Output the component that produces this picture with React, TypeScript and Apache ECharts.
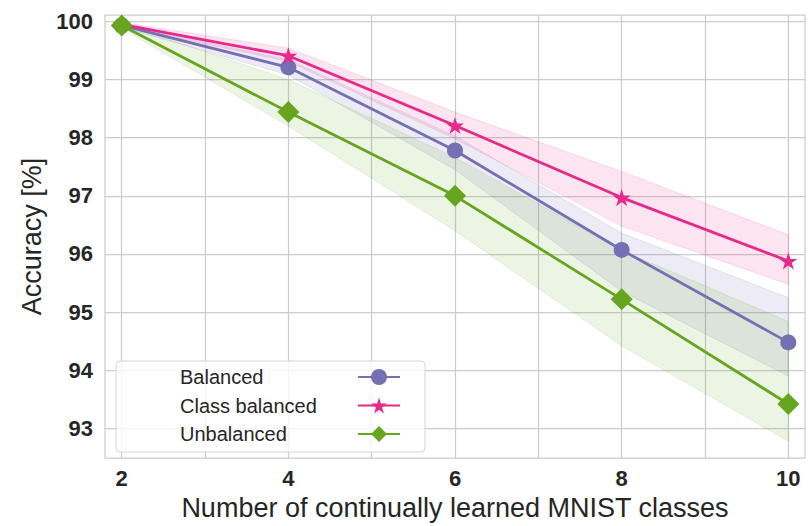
import React, { useEffect, useRef } from "react";
import * as echarts from "echarts";

const xValues = [2, 4, 6, 8, 10];
const xGridTicks = [2, 3, 4, 5, 6, 7, 8, 9, 10];
const xLabelTicks = [2, 4, 6, 8, 10];
const yTicks = [93, 94, 95, 96, 97, 98, 99, 100];

const seriesNames = ["Balanced", "Class balanced", "Unbalanced"];
const balanced = [99.93, 99.21, 97.78, 96.07, 94.48];
const classBalanced = [99.95, 99.41, 98.21, 96.97, 95.88];
const unbalanced = [99.93, 98.44, 97.0, 95.22, 93.42];

const balancedLo = [99.9, 99.08, 97.45, 95.36, 93.9];
const balancedHi = [99.96, 99.34, 98.03, 96.36, 95.25];
const classBalancedLo = [99.92, 99.31, 97.98, 96.48, 95.48];
const classBalancedHi = [99.98, 99.54, 98.44, 97.42, 96.33];
const unbalancedLo = [99.88, 98.2, 96.4, 94.42, 92.78];
const unbalancedHi = [99.96, 99.0, 97.66, 96.06, 94.84];

const colors = ["#7570b3", "#e7298a", "#66a61e"];
const bandFills = [
  "rgba(117,112,179,0.13)",
  "rgba(231,41,138,0.12)",
  "rgba(102,166,30,0.12)",
];
const bandStrokes = [
  "rgba(117,112,179,0.15)",
  "rgba(231,41,138,0.14)",
  "rgba(102,166,30,0.14)",
];

const STAR =
  "path://M0,-1 L0.2245,-0.309 L0.951,-0.309 L0.3633,0.118 L0.588,0.809 L0,0.382 L-0.588,0.809 L-0.3633,0.118 L-0.951,-0.309 L-0.2245,-0.309 Z";

const FONT = "'Liberation Sans', Arial, Helvetica, sans-serif";
const TEXT = "#262626";

function bandSeries(name: string, lo: number[], hi: number[], idx: number) {
  return {
    type: "custom",
    name,
    silent: true,
    z: 1,
    data: xValues.map((x, i) => [x, lo[i], hi[i]]),
    encode: { x: 0, y: [1, 2] },
    renderItem: (params: any, api: any) => {
      if (params.dataIndex !== 0) return { type: "group", children: [] };
      const pts: number[][] = [];
      for (let i = 0; i < xValues.length; i++) pts.push(api.coord([xValues[i], hi[i]]));
      for (let i = xValues.length - 1; i >= 0; i--) pts.push(api.coord([xValues[i], lo[i]]));
      return {
        type: "polygon",
        shape: { points: pts },
        style: { fill: bandFills[idx], stroke: bandStrokes[idx], lineWidth: 1 },
      };
    },
  };
}

function lineSeries(name: string, values: number[], idx: number, symbol: string, size: number) {
  return {
    type: "line",
    name,
    z: 3 + idx,
    data: xValues.map((x, i) => [x, values[i]]),
    symbol,
    symbolSize: size,
    symbolKeepAspect: true,
    showAllSymbol: true,
    color: colors[idx],
    lineStyle: { color: colors[idx], width: 2.8 },
    itemStyle: { color: colors[idx] },
    emphasis: { disabled: true },
  };
}

export default function App() {
  const ref = useRef<HTMLDivElement>(null);
  useEffect(() => {
    if (!ref.current) return;
    const chart = echarts.init(ref.current, undefined, { renderer: "svg" });
    chart.setOption({
      animation: false,
      backgroundColor: "#ffffff",
      textStyle: { fontFamily: FONT },
      grid: {
        left: 105,
        right: 5,
        top: 15,
        bottom: 63,
        show: true,
        borderColor: "#cccccc",
        borderWidth: 1.25,
        backgroundColor: "transparent",
        containLabel: false,
      },
      legend: {
        data: seriesNames,
        orient: "vertical",
        left: 116,
        top: 361,
        align: "right",
        itemWidth: 42,
        itemHeight: 20,
        itemGap: 8.5,
        padding: [6, 24, 8, 64],
        backgroundColor: "rgba(255,255,255,0.8)",
        borderColor: "#d6d6d6",
        borderWidth: 1,
        borderRadius: 4,
        selectedMode: false,
        formatter: "{t|{name}}",
        textStyle: {
          fontFamily: FONT,
          fontSize: 20,
          color: TEXT,
          rich: {
            t: { width: 173, align: "left", fontSize: 20, lineHeight: 20, fontFamily: FONT, color: TEXT },
          },
        },
      },
      xAxis: {
        type: "value",
        min: 1.8,
        max: 10.2,
        name: "Number of continually learned MNIST classes",
        nameLocation: "middle",
        nameGap: 26,
        nameTextStyle: { fontFamily: FONT, fontSize: 27, color: TEXT },
        axisLine: { show: false },
        axisTick: { show: false, customValues: xGridTicks },
        axisLabel: {
          customValues: xLabelTicks,
          fontFamily: FONT,
          fontSize: 22,
          fontWeight: "bold",
          color: TEXT,
          margin: 9,
        },
        splitLine: { show: true, lineStyle: { color: "#cccccc", width: 1.25 } },
      },
      yAxis: {
        type: "value",
        min: 92.49,
        max: 100.11,
        name: "Accuracy [%]",
        nameLocation: "middle",
        nameGap: 54,
        nameTextStyle: { fontFamily: FONT, fontSize: 27, color: TEXT },
        axisLine: { show: false },
        axisTick: { show: false, customValues: yTicks },
        axisLabel: {
          customValues: yTicks,
          fontFamily: FONT,
          fontSize: 22,
          fontWeight: "bold",
          color: TEXT,
          margin: 12,
        },
        splitLine: { show: true, lineStyle: { color: "#cccccc", width: 1.25 } },
      },
      series: [
        bandSeries("Balanced band", balancedLo, balancedHi, 0),
        bandSeries("Class balanced band", classBalancedLo, classBalancedHi, 1),
        bandSeries("Unbalanced band", unbalancedLo, unbalancedHi, 2),
        lineSeries(seriesNames[0], balanced, 0, "circle", 16),
        lineSeries(seriesNames[1], classBalanced, 1, STAR, 18),
        lineSeries(seriesNames[2], unbalanced, 2, "diamond", 22),
      ],
    });
    return () => chart.dispose();
  }, []);
  return (
    <div
      ref={ref}
      style={{ position: "fixed", left: 0, top: 0, width: 810, height: 526, background: "#fff" }}
    />
  );
}
